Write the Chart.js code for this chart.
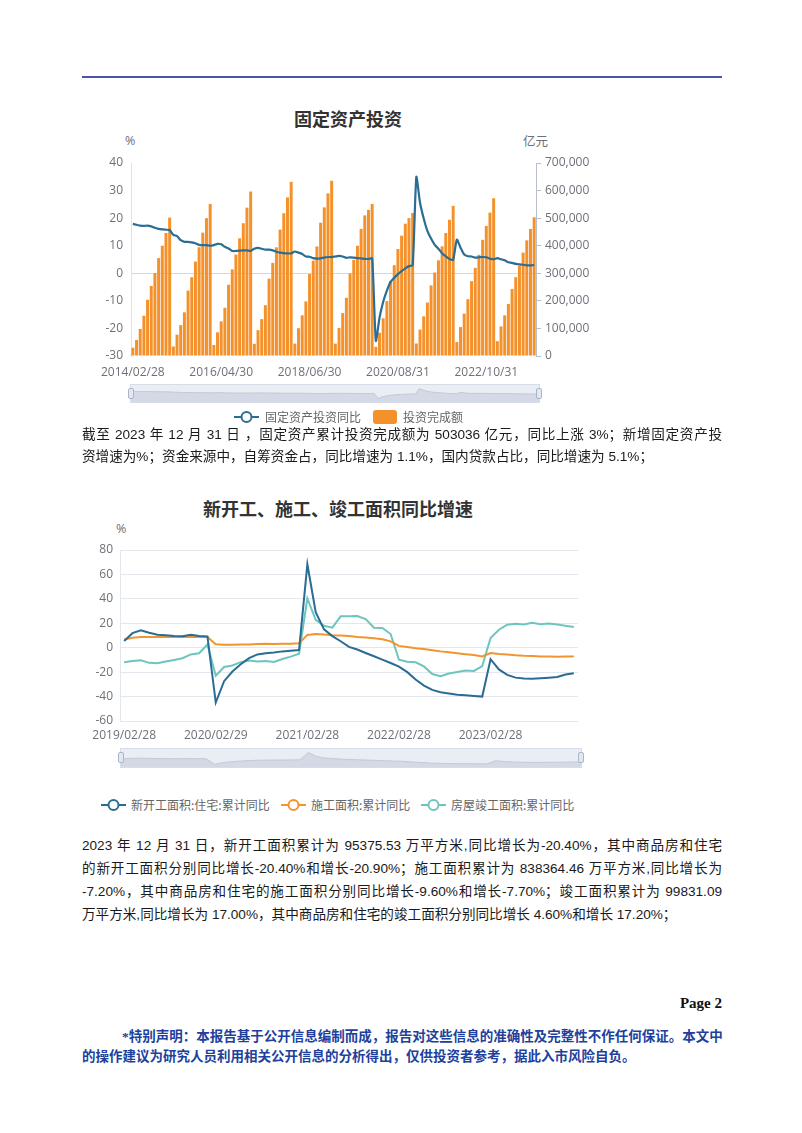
<!DOCTYPE html>
<html lang="zh-CN">
<head>
<meta charset="utf-8">
<title>固定资产投资 / 新开工、施工、竣工面积同比增速</title>
<script src="https://cdn.jsdelivr.net/npm/chart.js@4.4.1/dist/chart.umd.min.js"></script>
<style>
  body { margin: 0; background: #fff; }
  #page { position: relative; width: 802px; height: 1133px; overflow: hidden; background: #fff; font-family: "Noto Sans CJK SC", sans-serif; }
  .abs { position: absolute; white-space: nowrap; }
  .rule { position: absolute; left: 82px; top: 76px; width: 640px; height: 2px; background: #4a56a6; }
  .title { font-size: 18px; font-weight: bold; color: #333; line-height: 24px; transform: translateX(-50%); }
  .unit { font-family: "Open Sans", "Noto Sans CJK SC", sans-serif; font-size: 12.5px; color: #6e7079; line-height: 16px; }
  .legend-text { color: #666; line-height: 16px; }
  .para { position: absolute; left: 82px; width: 640px; height: 20px; overflow: hidden; font-family: "Liberation Sans", "Noto Sans CJK SC", sans-serif; font-size: 13.6px; color: #1a1a1a; line-height: 20px; white-space: nowrap; }
  .just { white-space: normal; text-align: justify; text-align-last: justify; }
  .note { position: absolute; font-family: "Liberation Serif", "Noto Sans CJK SC", serif; font-weight: bold; color: #213f9c; font-size: 13.5px; line-height: 20px; white-space: nowrap; }
  .slider { position: absolute; background: #e9edf4; border: 1px solid #d6dce8; box-sizing: border-box; }
  .slider canvas { position: absolute; left: 0; top: 0; }
  .handle { position: absolute; top: 50%; width: 6px; height: 11px; margin-top: -6px; background: #e3e8f0; border: 1px solid #a9b5c8; border-radius: 2px; box-sizing: border-box; }
</style>
</head>
<body>
<div id="page">
  <div class="rule"></div>

  <!-- chart 1 -->
  <div class="abs title" style="left:348px; top:106px;">固定资产投资</div>
  <div class="abs unit" style="left:125px; top:133px;">%</div>
  <div class="abs unit" style="left:523px; top:134px;">亿元</div>
  <canvas id="invest-chart" class="abs" style="left:70px; top:130px;" width="530" height="250"></canvas>
  <div class="slider" id="invest-slider" style="left:130px; top:384px; width:410px; height:19px;"></div>
  <div class="abs" id="invest-legend" style="left:0; top:409px;"></div>

  <div class="para just" style="top:425px;">截至 2023 年 12 月 31 日 ，固定资产累计投资完成额为 503036 亿元，同比上涨 3%；新增固定资产投</div>
  <div class="para" style="top:447px;">资增速为%；资金来源中，自筹资金占，同比增速为 1.1%，国内贷款占比，同比增速为 5.1%；</div>

  <!-- chart 2 -->
  <div class="abs title" style="left:338px; top:496px;">新开工、施工、竣工面积同比增速</div>
  <div class="abs unit" style="left:116px; top:521px;">%</div>
  <canvas id="area-chart" class="abs" style="left:50px; top:530px;" width="560" height="220"></canvas>
  <div class="slider" id="area-slider" style="left:120px; top:748px; width:462px; height:20px;"></div>
  <div class="abs" id="area-legend" style="left:0; top:797px;"></div>

  <div class="para just" style="top:836px;">2023 年 12 月 31 日，新开工面积累计为 95375.53 万平方米,同比增长为-20.40%，其中商品房和住宅</div>
  <div class="para just" style="top:859px;">的新开工面积分别同比增长-20.40%和增长-20.90%；施工面积累计为 838364.46 万平方米,同比增长为</div>
  <div class="para just" style="top:882px;">-7.20%，其中商品房和住宅的施工面积分别同比增长-9.60%和增长-7.70%；竣工面积累计为 99831.09</div>
  <div class="para" style="top:905px;">万平方米,同比增长为 17.00%，其中商品房和住宅的竣工面积分别同比增长 4.60%和增长 17.20%；</div>

  <div class="abs" style="right:80px; top:993px; font-family:'Liberation Serif', serif; font-weight:bold; font-size:15px; line-height:20px; color:#111;">Page 2</div>
  <div class="note just" style="left:122px; width:600px; top:1027px;">*特别声明：本报告基于公开信息编制而成，报告对这些信息的准确性及完整性不作任何保证。本文中</div>
  <div class="note" style="left:82px; top:1047px;">的操作建议为研究人员利用相关公开信息的分析得出，仅供投资者参考，据此入市风险自负。</div>
</div>

<script>
// ---- data ----
// reports start with Jan-Feb combined, so each year runs Feb..Dec
const reportMonths = [2, 3, 4, 5, 6, 7, 8, 9, 10, 11, 12];
const investYears = [2014, 2015, 2016, 2017, 2018, 2019, 2020, 2021, 2022, 2023];
const areaYears = [2019, 2020, 2021, 2022, 2023];

// 投资完成额 (亿元, cumulative)
const investAmount = [
  30000, 58000, 98000, 146000, 204000, 254000, 301000, 355000, 400000, 446000, 502005,
  34477, 77511, 112007, 158424, 237132, 285619, 342472, 394531, 447425, 499873, 551590,
  39798, 85843, 125627, 174730, 258360, 314135, 367948, 426906, 481489, 538027, 596501,
  44236, 93777, 133878, 184358, 280605, 337623, 394150, 458478, 517818, 575057, 631684,
  45031, 100763, 147584, 197992, 297316, 345961, 397303, 483442, 539094, 590000, 635636,
  44849, 101871, 155747, 211101, 299100, 349000, 400000, 461204, 510000, 530000, 551478,
  33323, 84145, 136824, 199194, 271895, 329214, 388097, 436530, 480000, 500000, 518907,
  45236, 95994, 143804, 193917, 255900, 302823, 346913, 397827, 445928, 494082, 544547,
  50763, 104872, 153544, 205964, 271430, 319812, 367106, 421412, 471459, 520043, 572138,
  53577, 107282, 147482, 188815, 243113, 285898, 327042, 375035, 419409, 460814, 503036,
];

// 固定资产投资同比 (%)
const investYoY = [
  17.9, 17.6, 17.3, 17.2, 17.3, 17.0, 16.5, 16.1, 15.9, 15.8, 15.7,
  13.9, 13.5, 12.0, 11.4, 11.4, 11.2, 10.9, 10.3, 10.2, 10.2, 10.0,
  10.2, 10.7, 10.5, 9.6, 9.0, 8.1, 8.1, 8.2, 8.3, 8.3, 8.1,
  8.9, 9.2, 8.9, 8.6, 8.6, 8.3, 7.8, 7.5, 7.3, 7.2, 7.2,
  7.9, 7.5, 7.0, 6.1, 6.0, 5.5, 5.3, 5.4, 5.7, 5.9, 5.9,
  6.1, 6.3, 6.1, 5.6, 5.8, 5.7, 5.5, 5.4, 5.2, 5.2, 5.4,
  -24.5, -16.1, -10.3, -6.3, -3.1, -1.6, -0.3, 0.8, 1.8, 2.6, 2.9,
  35.0, 25.6, 19.9, 15.4, 12.6, 10.3, 8.9, 7.3, 6.1, 5.2, 4.9,
  12.2, 9.3, 6.8, 6.2, 6.1, 5.7, 5.8, 5.9, 5.8, 5.3, 5.1,
  5.5, 5.1, 4.7, 4.0, 3.8, 3.4, 3.2, 3.1, 2.9, 2.9, 3.0,
];

// 新开工面积:住宅:累计同比 (%)
const newStartYoY = [
  5.5, 11.9, 14.3, 12.3, 10.6, 10.2, 9.5, 9.4, 10.6, 9.6, 9.2,
  -44.9, -27.4, -19.5, -13.5, -8.5, -5.5, -4.5, -4.0, -3.0, -2.5, -1.9,
  68.3, 29.0, 15.0, 9.5, 5.3, 0.7, -1.5, -4.3, -7.0, -9.8, -12.5,
  -15.5, -20.0, -26.0, -31.0, -34.5, -36.5, -37.5, -38.5, -39.0, -39.5, -40.0,
  -9.4, -17.8, -22.2, -24.5, -25.2, -25.5, -25.0, -24.5, -24.0, -22.0, -20.9,
];

// 施工面积:累计同比 (%)
const constructionYoY = [
  6.8, 8.2, 8.8, 8.8, 8.8, 8.8, 8.8, 8.7, 9.0, 8.7, 8.7,
  2.9, 2.5, 2.5, 2.6, 2.6, 3.1, 3.3, 3.1, 3.2, 3.2, 3.7,
  10.5, 11.2, 10.8, 10.3, 10.0, 9.5, 8.8, 8.3, 7.8, 7.0, 5.2,
  1.5, 0.5, -0.5, -1.0, -2.0, -3.0, -3.7, -4.5, -5.3, -6.0, -7.2,
  -4.4, -5.2, -5.6, -6.2, -6.6, -6.8, -7.1, -7.1, -7.3, -7.2, -7.2,
];

// 房屋竣工面积:累计同比 (%)
const completionYoY = [
  -11.9, -10.8, -10.3, -12.4, -12.7, -11.3, -10.0, -8.6, -5.5, -4.5, 2.6,
  -22.9, -15.8, -14.5, -11.8, -10.5, -11.2, -10.8, -11.6, -9.2, -7.3, -4.9,
  40.4, 22.9, 17.9, 16.4, 25.7, 25.7, 26.0, 23.4, 16.3, 16.2, 11.2,
  -9.8, -11.5, -11.9, -15.3, -21.5, -23.3, -21.1, -19.9, -18.7, -19.0, -15.0,
  8.0, 14.7, 18.8, 19.6, 19.0, 20.5, 19.2, 19.8, 19.0, 17.9, 17.0,
];

// ---- styles ----
const colors = {
  investLine: "#2b6d93",
  investBar: "#f4912a",
  newStart: "#2a6c92",
  construction: "#f2952e",
  completion: "#6cc6be",
  tick: "#6e7079",
};
const tickFont = { family: "'Open Sans', 'Noto Sans CJK SC', sans-serif", size: 12 };

Chart.defaults.font.family = tickFont.family;
Chart.defaults.color = colors.tick;

// month-end dates like 2014/02/28
function monthEndLabels(years) {
  const labels = [];
  years.forEach((y) => {
    reportMonths.forEach((m) => {
      const day = new Date(y, m, 0).getDate();
      labels.push(`${y}/${String(m).padStart(2, "0")}/${day}`);
    });
  });
  return labels;
}

const investLabels = monthEndLabels(investYears);
const areaLabels = monthEndLabels(areaYears);

const baseOptions = {
  responsive: false,
  animation: false,
  devicePixelRatio: 1,
  plugins: { legend: { display: false }, tooltip: { enabled: false } },
};

// ---- chart 1: 固定资产投资 ----
function initInvestChart() {
  const ctx = document.getElementById("invest-chart").getContext("2d");
  return new Chart(ctx, {
    data: {
      labels: investLabels,
      datasets: [
        {
          type: "line",
          label: "固定资产投资同比",
          data: investYoY,
          yAxisID: "y",
          borderColor: colors.investLine,
          borderWidth: 2.2,
          pointRadius: 0,
          tension: 0.2,
          order: 1,
        },
        {
          type: "bar",
          label: "投资完成额",
          data: investAmount,
          yAxisID: "y1",
          backgroundColor: colors.investBar,
          barPercentage: 0.9,
          categoryPercentage: 0.9,
          order: 2,
        },
      ],
    },
    options: {
      ...baseOptions,
      layout: { padding: { top: 33, left: 0, right: 0, bottom: 0 } },
      scales: {
        x: {
          offset: true,
          grid: { display: false, drawTicks: false },
          border: { display: false },
          ticks: {
            autoSkip: false,
            maxRotation: 0,
            padding: 9,
            font: tickFont,
            callback: function (v, i) {
              return i % 24 === 0 ? this.getLabelForValue(v) : null;
            },
          },
          afterFit: (s) => { s.height = 24; },
        },
        y: {
          position: "left",
          min: -30,
          max: 40,
          ticks: { stepSize: 10, padding: 8, font: tickFont },
          grid: {
            drawTicks: false,
            color: (c) => (c.tick && c.tick.value === 0 ? "#d3d7df" : "rgba(0,0,0,0)"),
          },
          border: { display: true, color: "#dfe2e8" },
          afterFit: (s) => { s.width = 61; },
        },
        y1: {
          position: "right",
          min: 0,
          max: 700000,
          ticks: {
            stepSize: 100000,
            padding: 4,
            font: tickFont,
            callback: (v) => v.toLocaleString("en-US"),
          },
          grid: { drawOnChartArea: false, tickLength: 5, color: "#b9bfca" },
          border: { display: true, color: "#b9bfca" },
          afterFit: (s) => { s.width = 64; },
        },
      },
    },
  });
}

// ---- chart 2: 新开工、施工、竣工面积同比增速 ----
function initAreaChart() {
  const ctx = document.getElementById("area-chart").getContext("2d");
  const line = (label, data, color) => ({
    type: "line",
    label: label,
    data: data,
    borderColor: color,
    borderWidth: 2,
    pointRadius: 0,
    tension: 0,
  });
  return new Chart(ctx, {
    data: {
      labels: areaLabels,
      datasets: [
        line("新开工面积:住宅:累计同比", newStartYoY, colors.newStart),
        line("施工面积:累计同比", constructionYoY, colors.construction),
        line("房屋竣工面积:累计同比", completionYoY, colors.completion),
      ],
    },
    options: {
      ...baseOptions,
      layout: { padding: { top: 20, right: 32, left: 0, bottom: 0 } },
      scales: {
        x: {
          offset: true,
          grid: { display: false, drawTicks: false },
          border: { display: false },
          ticks: {
            autoSkip: false,
            maxRotation: 0,
            padding: 7,
            font: tickFont,
            callback: function (v, i) {
              return i % 11 === 0 ? this.getLabelForValue(v) : null;
            },
          },
          afterFit: (s) => { s.height = 29; },
        },
        y: {
          min: -60,
          max: 80,
          ticks: { stepSize: 20, padding: 7, font: tickFont },
          grid: { drawTicks: false, color: "#e3e7ee" },
          border: { display: true, color: "#e3e7ee" },
          afterFit: (s) => { s.width = 70; },
        },
      },
    },
  });
}

// ---- zoom slider look-alike with a data shadow ----
function initSlider(id, data, min, max) {
  const box = document.getElementById(id);
  const w = box.clientWidth;
  const h = box.clientHeight;
  const canvas = document.createElement("canvas");
  canvas.width = w;
  canvas.height = h;
  box.appendChild(canvas);
  new Chart(canvas.getContext("2d"), {
    type: "line",
    data: {
      labels: data.map((_, i) => i),
      datasets: [
        {
          data: data,
          borderColor: "#c3c9d5",
          borderWidth: 1,
          backgroundColor: "#d4dae5",
          fill: "start",
          pointRadius: 0,
          tension: 0,
        },
      ],
    },
    options: {
      ...baseOptions,
      layout: { padding: 0 },
      scales: {
        x: { display: false },
        y: { display: false, min: min, max: max },
      },
    },
  });
  ["left", "right"].forEach((side) => {
    const hd = document.createElement("div");
    hd.className = "handle";
    hd.style[side] = "-3px";
    box.appendChild(hd);
  });
}

// ---- legends ----
function lineIcon(color) {
  return `<svg width="25" height="14" style="display:block">
    <line x1="0" y1="7" x2="25" y2="7" stroke="${color}" stroke-width="2"/>
    <circle cx="12.5" cy="7" r="5" fill="#fff" stroke="${color}" stroke-width="2"/>
  </svg>`;
}

function placeLegend(id, items, fontSize) {
  const holder = document.getElementById(id);
  items.forEach((it) => {
    const icon = document.createElement("div");
    icon.className = "abs";
    icon.style.left = it.iconX + "px";
    icon.style.top = "1px";
    icon.innerHTML = it.icon;
    holder.appendChild(icon);
    const text = document.createElement("div");
    text.className = "abs legend-text";
    text.style.left = it.textX + "px";
    text.style.top = "0px";
    text.style.fontSize = fontSize + "px";
    text.textContent = it.text;
    holder.appendChild(text);
  });
}

const barIcon = `<div style="width:24px;height:14px;border-radius:3px;background:${colors.investBar}"></div>`;

initInvestChart();
initAreaChart();
initSlider("invest-slider", investYoY, -46, 57);
initSlider("area-slider", newStartYoY, -70, 102);

placeLegend("invest-legend", [
  { iconX: 234, textX: 265, icon: lineIcon(colors.investLine), text: "固定资产投资同比" },
  { iconX: 373, textX: 403, icon: barIcon, text: "投资完成额" },
], 12);

placeLegend("area-legend", [
  { iconX: 101, textX: 131, icon: lineIcon(colors.newStart), text: "新开工面积:住宅:累计同比" },
  { iconX: 281, textX: 311, icon: lineIcon(colors.construction), text: "施工面积:累计同比" },
  { iconX: 421, textX: 451, icon: lineIcon(colors.completion), text: "房屋竣工面积:累计同比" },
], 12);
</script>
</body>
</html>
